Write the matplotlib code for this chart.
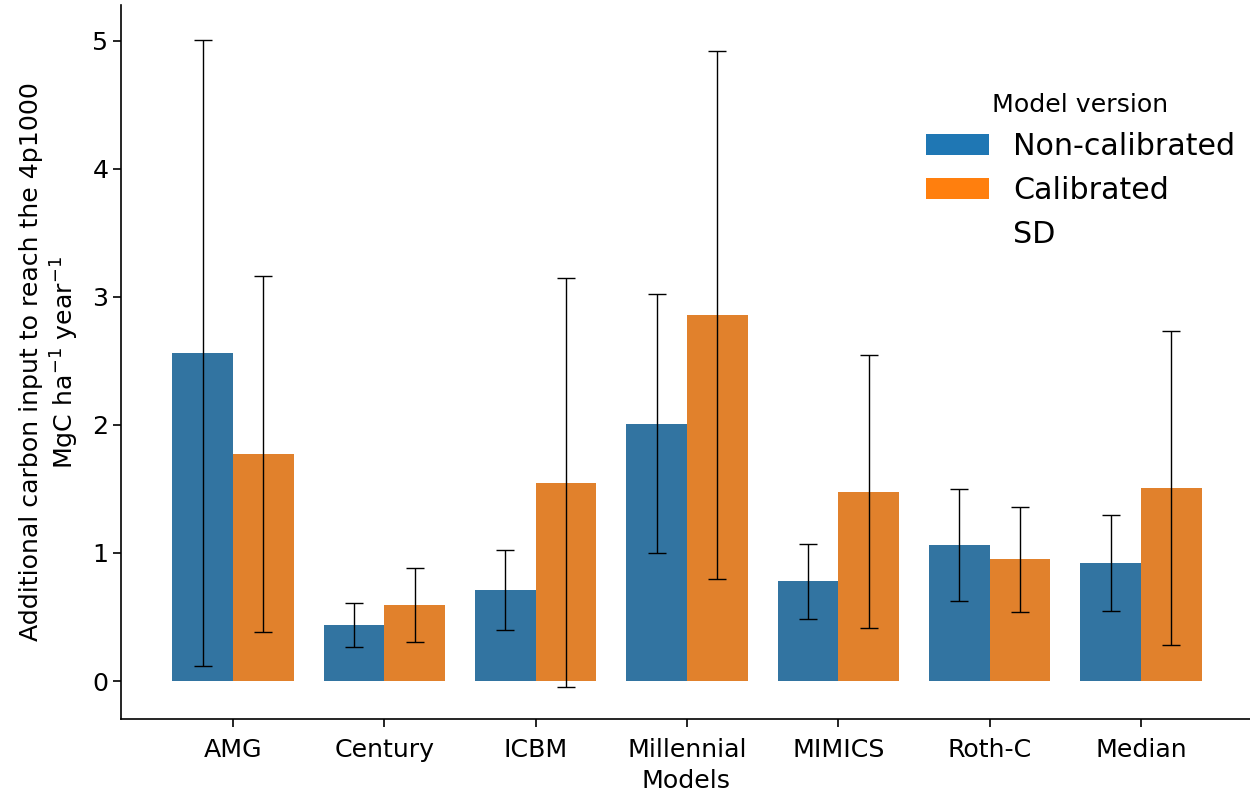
import numpy as np
from matplotlib import pyplot as plt
from matplotlib.patches import Patch

models = ['AMG', 'Century', 'ICBM', 'Millennial', 'MIMICS', 'Roth-C', 'Median']
non_calibrated = [2.56, 0.44, 0.71, 2.01, 0.78, 1.06, 0.92]
calibrated = [1.77, 0.59, 1.55, 2.86, 1.48, 0.95, 1.51]
sd_non_calibrated = [2.445, 0.172, 0.31, 1.013, 0.292, 0.436, 0.374]
sd_calibrated = [1.39, 0.289, 1.595, 2.062, 1.064, 0.41, 1.227]

plt.rcParams['font.size'] = 18.2
plt.rcParams['font.family'] = 'DejaVu Sans'

fig = plt.figure(figsize=(12.5, 7.96), dpi=100)
ax = fig.add_axes([0.0968, 0.0967, 0.9032, 0.897])

x = np.arange(len(models))
width = 0.4
# seaborn-like desaturated bar colours
ax.bar(x - width / 2, non_calibrated, width=width, color='#3274a1')
ax.bar(x + width / 2, calibrated, width=width, color='#e1812c')
ax.errorbar(x - width / 2, non_calibrated, yerr=sd_non_calibrated, fmt='none',
            ecolor='black', elinewidth=1.0, capsize=6.5, capthick=1.0)
ax.errorbar(x + width / 2, calibrated, yerr=sd_calibrated, fmt='none',
            ecolor='black', elinewidth=1.0, capsize=6.5, capthick=1.0)

ax.set_xlim(-0.74, 6.72)
ax.set_ylim(-0.297, 5.28)
ax.set_xticks(x)
ax.set_xticklabels(models)
ax.set_xlabel('Models', labelpad=5)
ax.set_ylabel('Additional carbon input to reach the 4p1000\nMgC ha$^{-1}$ year$^{-1}$',
              labelpad=8, linespacing=1.25)
ax.spines['top'].set_visible(False)
ax.spines['right'].set_visible(False)
for sp in ['left', 'bottom']:
    ax.spines[sp].set_linewidth(1.2)
ax.tick_params(length=5.5, width=1.2)
ax.tick_params(axis='x', pad=8)

handles = [Patch(facecolor='#1f77b4', label='Non-calibrated'),
           Patch(facecolor='#ff7f0e', label='Calibrated'),
           Patch(facecolor='none', edgecolor='none', label='SD')]
ax.legend(handles=handles, title='Model version', fontsize=21.7, title_fontsize=18.2,
          frameon=False, loc='upper right', bbox_to_anchor=(1.011, 0.915),
          handlelength=2.1)

plt.savefig('out.png', dpi=100)
